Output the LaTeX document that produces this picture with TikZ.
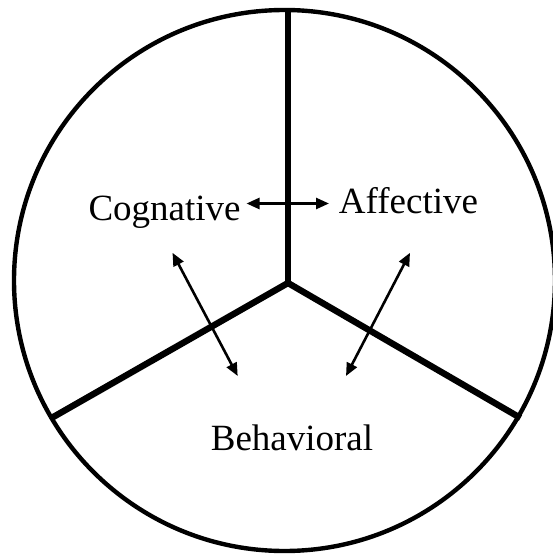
\documentclass[tikz,border=0pt]{standalone}
\usepackage{fontspec}
\setmainfont{Liberation Serif}
\usetikzlibrary{arrows.meta}
\tikzset{
  % Outer ring
  ring/.style={line width=4.4pt,draw=black},
  % Thick dividing spokes
  spoke/.style={line width=6.4pt,draw=black,line cap=butt},
  % Component label
  lbl/.style={inner sep=0pt,anchor=base,font=\fontsize{37}{44}\selectfont},
  % Two-headed arrows
  arr/.style={{Triangle[length=13pt,width=11pt]}-{Triangle[length=13pt,width=11pt]},line width=2.6pt},
}
\begin{document}
\begin{tikzpicture}[x=1pt,y=-1pt]
  \useasboundingbox (0,0) rectangle (552,556);
  % circle and spokes
  \coordinate (ctr) at (284.5,280.5);
  \coordinate (hub) at (288,283);
  \coordinate (top) at (288,9);
  \coordinate (lft) at (51.5,418);
  \coordinate (rgt) at (520.5,418);
  \draw[spoke] (hub) -- (top);
  \draw[spoke] (hub) -- (lft);
  \draw[spoke] (hub) -- (rgt);
  \draw[ring] (ctr) circle[radius=270.5];

  \node[lbl] (cog) at (164.6,220) {Cognative};
  \node[lbl] (aff) at (408.5,213) {Affective};
  \node[lbl] (beh) at (292,450) {Behavioral};

  % arrow ends
  \coordinate (cogR) at (246.5,203.5);
  \coordinate (affL) at (329,203.5);
  \coordinate (cogB) at (172.5,252.8);
  \coordinate (behL) at (237.7,376);
  \coordinate (affB) at (410,252.8);
  \coordinate (behR) at (346,376);
  \draw[arr] (cogR) -- (affL);
  \draw[arr] (cogB) -- (behL);
  \draw[arr] (affB) -- (behR);
\end{tikzpicture}
\end{document}
